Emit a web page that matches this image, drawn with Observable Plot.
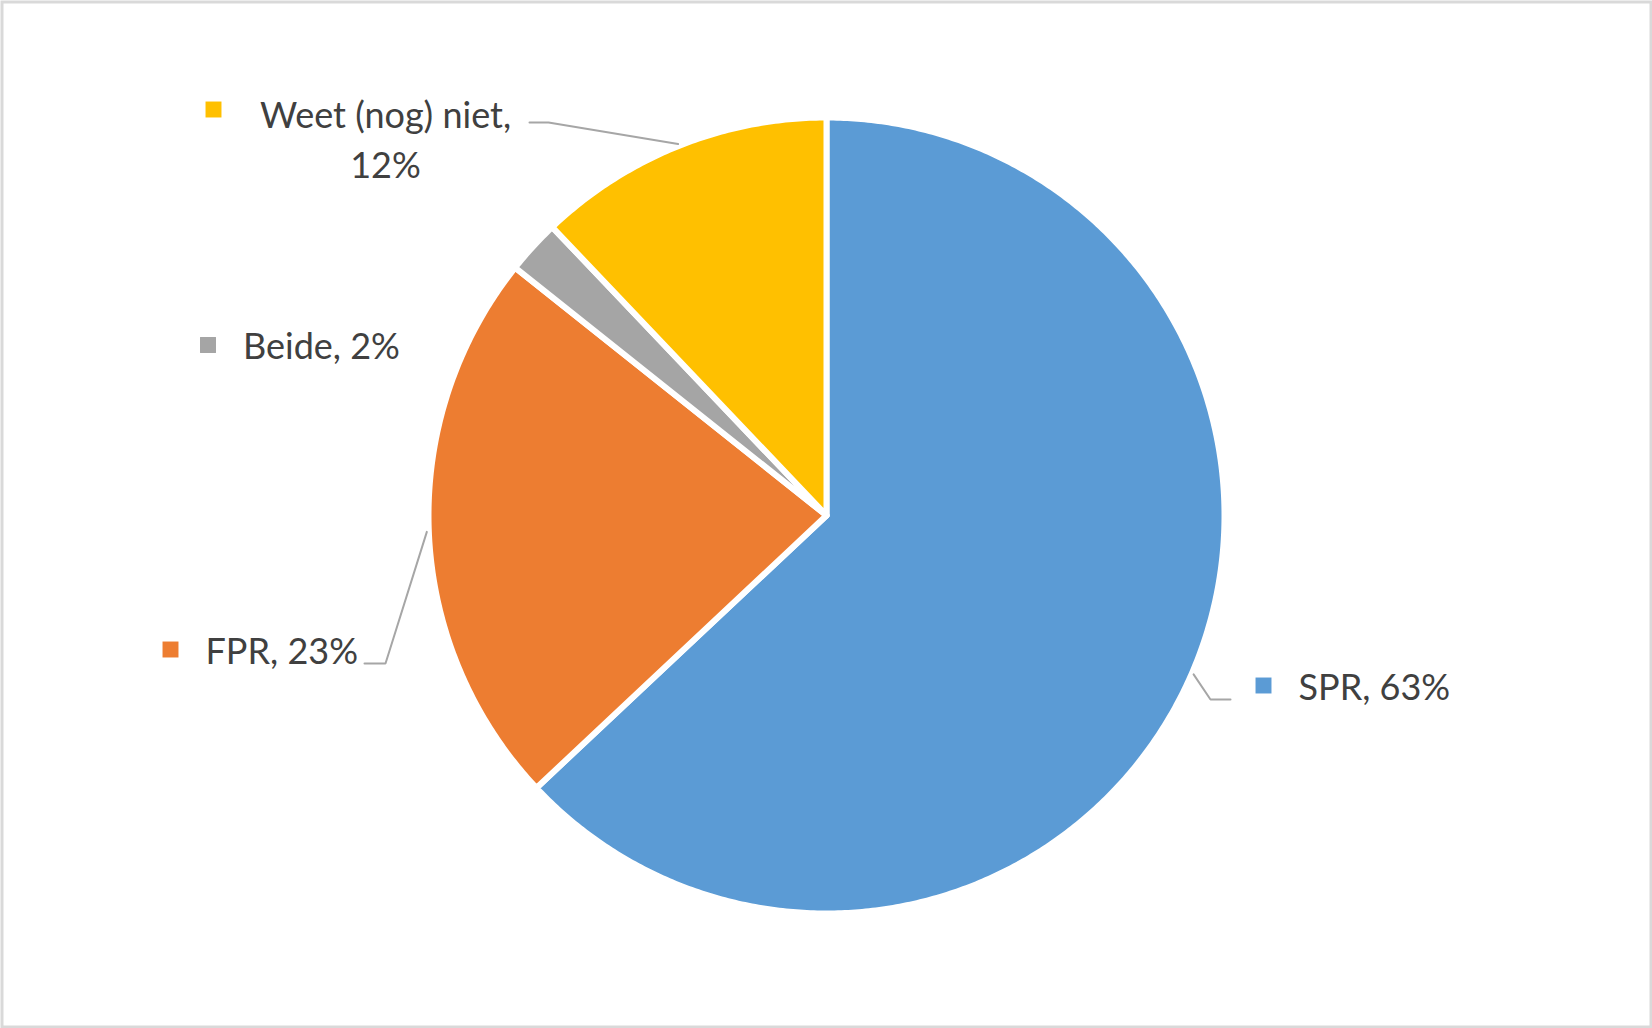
<!DOCTYPE html>
<html>
<head>
<meta charset="utf-8">
<script src="https://cdn.jsdelivr.net/npm/d3@7"></script>
<script src="https://cdn.jsdelivr.net/npm/@observablehq/plot@0.6"></script>
<style>
  html, body { margin: 0; padding: 0; background: #ffffff; }
  #chart svg { display: block; }
</style>
</head>
<body>
<div id="chart"></div>
<script>
// ---- data ----
const categories = ["SPR", "FPR", "Beide", "Weet (nog) niet"];
const values = [63, 22.7, 2.2, 12.1];      // shares in percent (labels show rounded values)
const colors = ["#5b9bd5", "#ed7d31", "#a5a5a5", "#ffc000"];

// ---- layout (pixels) ----
const W = 1652, H = 1028;
const CX = 826, CY = 515, R = 398;
const FONT = 36;
const labelLayout = {
  "SPR":             {keyX: 1263,  base: 699, wrap: false, leader: [[1230, 699], [1210, 699]]},
  "FPR":             {keyX: 170,   base: 663, wrap: false, leader: [[364, 663], [385, 663]]},
  "Beide":           {keyX: 207.5, base: 358.5, wrap: false, leader: null},
  "Weet (nog) niet": {keyX: 213,   base: 123, wrap: true, centerX: 385, leader: [[529, 122], [548, 122]]}
};

// ---- build pie geometry from the values ----
const total = d3.sum(values);
const rad = d => d * Math.PI / 180;
const pt = (theta, r) => [CX + r * Math.sin(theta), CY - r * Math.cos(theta)];
let acc = 0;
const slices = categories.map((c, i) => {
  const a0 = acc / total * 2 * Math.PI;
  acc += values[i];
  const a1 = acc / total * 2 * Math.PI;
  return {category: c, value: values[i], a0, a1, mid: (a0 + a1) / 2};
});

const slicePoints = [];
for (const s of slices) {
  slicePoints.push({category: s.category, x: CX, y: CY});
  const n = Math.max(2, Math.ceil((s.a1 - s.a0) / rad(0.5)));
  for (let k = 0; k <= n; k++) {
    const t = s.a0 + (s.a1 - s.a0) * k / n;
    const [x, y] = pt(t, R);
    slicePoints.push({category: s.category, x, y});
  }
}

// labels, keys, leaders
const labels = [], keys = [], leaders = [];
for (const s of slices) {
  const L = labelLayout[s.category];
  const pct = Math.round(s.value / total * 100);
  const txt = L.wrap ? `${s.category},\n${pct}%` : `${s.category}, ${pct}%`;
  if (L.wrap) {
    labels.push({category: s.category, text: txt, x: L.centerX, y: L.base + 25 - 0.32 * FONT, anchor: "middle"});
  } else {
    labels.push({category: s.category, text: txt, x: L.keyX + 35, y: L.base - 0.32 * FONT, anchor: "start"});
  }
  keys.push({category: s.category, x: L.keyX, y: L.base - 14});
  if (L.leader) {
    const [px, py] = pt(s.mid, R + 2);
    leaders.push({category: s.category, x: px, y: py});
    leaders.push({category: s.category, x: L.leader[1][0], y: L.leader[1][1]});
    leaders.push({category: s.category, x: L.leader[0][0], y: L.leader[0][1]});
  }
}

const chart = Plot.plot({
  width: W,
  height: H,
  margin: 0,
  x: {domain: [0, W], range: [0, W], axis: null},
  y: {domain: [0, H], range: [0, H], axis: null},
  color: {domain: categories, range: colors},
  marks: [
    Plot.line(slicePoints, {
      x: "x", y: "y", z: "category",
      fill: "category",
      stroke: "white",
      strokeWidth: 6,
      strokeLinejoin: "round",
      curve: "linear-closed"
    }),
    Plot.line(leaders, {
      x: "x", y: "y", z: "category",
      stroke: "#a6a6a6",
      strokeWidth: 2,
      strokeLinejoin: "miter",
      curve: "linear"
    }),
    Plot.dot(keys, {
      x: "x", y: "y",
      symbol: "square",
      r: 9,
      fill: "category",
      stroke: null
    }),
    Plot.text(labels.filter(d => d.anchor === "start"), {
      x: "x", y: "y", text: "text",
      textAnchor: "start",
      fontSize: FONT,
      fontFamily: "Lato, 'Open Sans', sans-serif",
      fill: "#404040"
    }),
    Plot.text(labels.filter(d => d.anchor === "middle"), {
      x: "x", y: "y", text: "text",
      textAnchor: "middle",
      lineHeight: 50 / FONT,
      fontSize: FONT,
      fontFamily: "Lato, 'Open Sans', sans-serif",
      fill: "#404040",
      style: {letterSpacing: "0.3px"}
    }),
    Plot.frame({stroke: "#d9d9d9", strokeWidth: 3, inset: 1.5})
  ]
});

document.getElementById("chart").appendChild(chart);
</script>
</body>
</html>
